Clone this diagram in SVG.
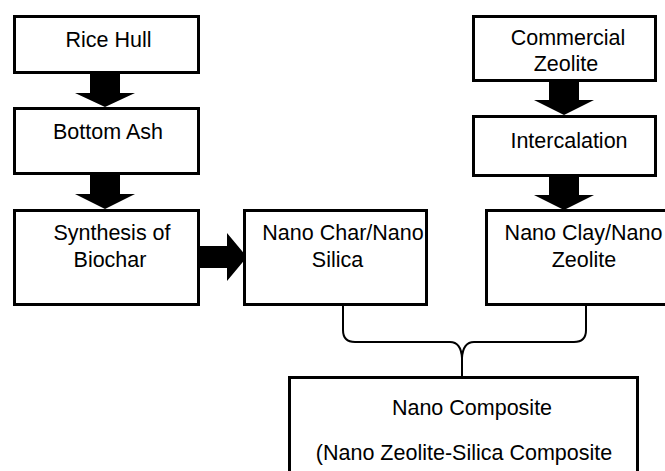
<svg xmlns="http://www.w3.org/2000/svg" width="665" height="471" viewBox="0 0 665 471">
<style>
.box{fill:#fff;stroke:#000;stroke-width:3}
.t{font-family:"Liberation Sans",Arial,sans-serif;font-size:21.5px;fill:#000;text-anchor:middle}
.arr{fill:#000}
.brace{fill:none;stroke:#000;stroke-width:2}
</style>
<rect width="665" height="471" fill="#fff"/>
<g id="connectors">
<polygon class="arr" points="90,72 120,72 120,93 135,93 105,107 75,93 90,93"/>
<polygon class="arr" points="90,173 120,173 120,194 135,194 105,209 75,194 90,194"/>
<polygon class="arr" points="199,246 227,246 227,233 247,257 227,281 227,268 199,268"/>
<polygon class="arr" points="549,81 579,81 579,100 594,100 564,115 534,100 549,100"/>
<polygon class="arr" points="549,176 579,176 579,195 594,195 564,210 534,195 549,195"/>
<path class="brace" d="M343,305 L343,330 Q343,342 355,342 L450,342 Q461,342 462,358 L462,377"/>
<path class="brace" d="M586,305 L586,330 Q586,342 574,342 L474,342 Q463,342 462,358"/>
</g>
<g id="rice-hull">
<rect class="box" x="14.5" y="16.5" width="184" height="56"/>
<text class="t" x="108.5" y="47">Rice Hull</text>
</g>
<g id="bottom-ash">
<rect class="box" x="14.5" y="108.5" width="184" height="65"/>
<text class="t" x="108" y="139">Bottom Ash</text>
</g>
<g id="synthesis-biochar">
<rect class="box" x="14.5" y="210.5" width="184" height="94"/>
<text class="t" x="112" y="240">Synthesis of</text>
<text class="t" x="110" y="267">Biochar</text>
</g>
<g id="nano-char">
<rect class="box" x="244.5" y="210.5" width="182" height="94"/>
<text class="t" x="343" y="240">Nano Char/Nano</text>
<text class="t" x="337.5" y="267">Silica</text>
</g>
<g id="commercial-zeolite">
<rect class="box" x="473.5" y="16.5" width="182" height="64"/>
<text class="t" x="568" y="45">Commercial</text>
<text class="t" x="566" y="71">Zeolite</text>
</g>
<g id="intercalation">
<rect class="box" x="473.5" y="116.5" width="182" height="59"/>
<text class="t" x="569" y="148">Intercalation</text>
</g>
<g id="nano-clay">
<rect class="box" x="486.5" y="210.5" width="184" height="94"/>
<text class="t" x="583.5" y="240">Nano Clay/Nano</text>
<text class="t" x="584" y="267">Zeolite</text>
</g>
<g id="nano-composite">
<rect class="box" x="289.5" y="377.5" width="348" height="110"/>
<text class="t" x="472" y="415">Nano Composite</text>
<text class="t" x="464" y="460">(Nano Zeolite-Silica Composite</text>
</g>
</svg>
